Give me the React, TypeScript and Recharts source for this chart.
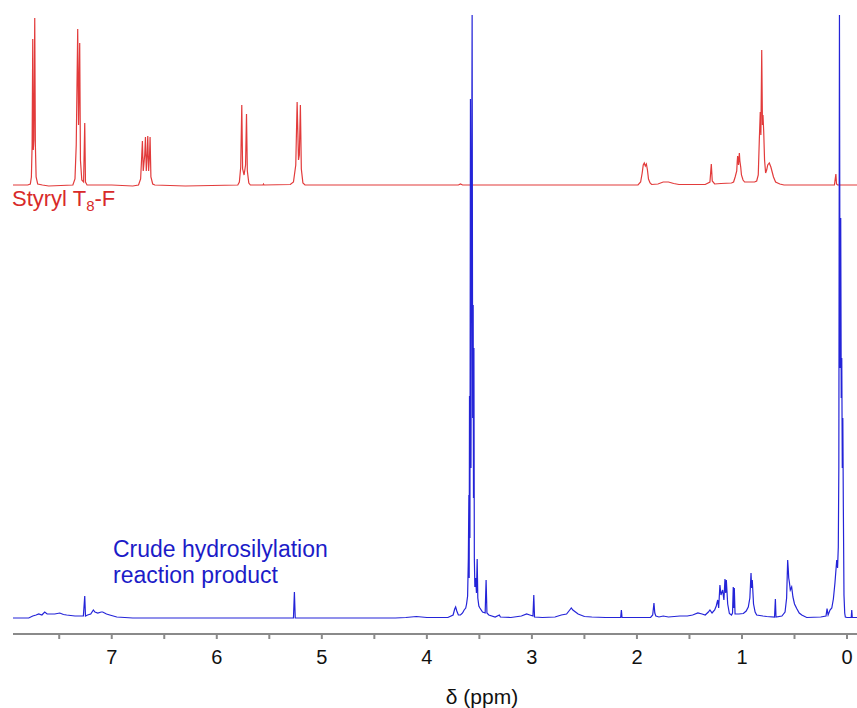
import { LineChart, Line, XAxis, YAxis } from "recharts";

// chemical shift ticks (labels only on whole ppm)
const tickValues = [7.5, 7, 6.5, 6, 5.5, 5, 4.5, 4, 3.5, 3, 2.5, 2, 1.5, 1, 0.5, 0];

// Styryl T8-F trace: [ppm, height above its own baseline]
const styrylTrace: [number, number][] = [
  [7.94, 0], [7.8, 0], [7.775, 1], [7.765, 8], [7.758, 40], [7.752, 146], [7.747, 35],
  [7.741, 45], [7.733, 167], [7.727, 40], [7.72, 8], [7.705, 1], [7.66, 0], [7.6, -1],
  [7.37, 0], [7.35, 6], [7.338, 40], [7.324, 156], [7.316, 60], [7.305, 142], [7.298, 25],
  [7.285, 5], [7.268, 3], [7.257, 62], [7.25, 3], [7.235, 0], [7.0, 0], [6.8, -1],
  [6.745, 0], [6.725, 6], [6.714, 30], [6.708, 44], [6.7, 14], [6.686, 30], [6.679, 48],
  [6.671, 14], [6.662, 32], [6.657, 49], [6.649, 14], [6.64, 30], [6.635, 48], [6.627, 8],
  [6.61, 1], [6.59, 0], [6.3, -1], [5.8, 0], [5.785, 3], [5.772, 18], [5.762, 80],
  [5.754, 16], [5.74, 10], [5.726, 20], [5.717, 71], [5.709, 14], [5.695, 2], [5.68, 0],
  [5.56, 0], [5.555, 1], [5.55, 0], [5.3, 0.5], [5.27, 3], [5.248, 20], [5.235, 83],
  [5.222, 25], [5.214, 30], [5.204, 80], [5.195, 16], [5.18, 2], [5.16, 0],
  [3.7, 0], [3.68, 1], [3.66, 0],
  [1.99, 0], [1.965, 3], [1.95, 12], [1.94, 20], [1.93, 22], [1.92, 19], [1.91, 21],
  [1.9, 15], [1.89, 6], [1.875, 2], [1.86, 0.5], [1.8, 1], [1.75, 3], [1.7, 3], [1.65, 1.5],
  [1.6, 0.5], [1.35, 0.5], [1.305, 3], [1.292, 21], [1.283, 4], [1.26, 1], [1.2, 1.5],
  [1.1, 2], [1.08, 3], [1.065, 8], [1.05, 14], [1.045, 24], [1.041, 29], [1.033, 20],
  [1.025, 32], [1.02, 24], [1.012, 18], [1.005, 10], [0.99, 5], [0.975, 3], [0.93, 3],
  [0.88, 3], [0.86, 4], [0.845, 10], [0.835, 45], [0.826, 73], [0.82, 50], [0.812, 135],
  [0.805, 60], [0.8, 70], [0.793, 53], [0.785, 25], [0.775, 12], [0.765, 15], [0.755, 20],
  [0.74, 22], [0.725, 18], [0.7, 8], [0.68, 3], [0.64, 1], [0.6, 0], [0.12, 0],
  [0.106, 11], [0.1, 1], [0.09, 0], [-0.095, 0],
];

// crude hydrosilylation reaction product trace: [ppm, height above its baseline]
const crudeTrace: [number, number][] = [
  [7.94, 0], [7.79, 0], [7.752, 2], [7.72, 3], [7.695, 4], [7.665, 3], [7.638, 6],
  [7.615, 4], [7.59, 4], [7.543, 4], [7.495, 5], [7.46, 3.5], [7.429, 3], [7.35, 2],
  [7.27, 2], [7.257, 22], [7.25, 2], [7.23, 3], [7.2, 4], [7.175, 8], [7.16, 6],
  [7.133, 5], [7.1, 6], [7.086, 6], [7.05, 4], [7.019, 3], [6.952, 1], [6.8, 0],
  [5.27, 0], [5.261, 26], [5.253, 0], [4.3, 0], [4.2, 0.5], [4.1, 1.5], [4.05, 1],
  [4.0, 0.5], [3.8, 0.5], [3.75, 3], [3.735, 9], [3.726, 11], [3.715, 7], [3.7, 3],
  [3.68, 3], [3.66, 5], [3.645, 8], [3.63, 10], [3.622, 14], [3.612, 22], [3.605, 60],
  [3.6, 123], [3.597, 40], [3.594, 222], [3.59, 80], [3.585, 519], [3.58, 150],
  [3.575, 380], [3.569, 603], [3.564, 200], [3.559, 313], [3.556, 120], [3.552, 270],
  [3.548, 60], [3.543, 31], [3.535, 40], [3.528, 25], [3.521, 59], [3.515, 20],
  [3.505, 12], [3.495, 10], [3.47, 6], [3.445, 5], [3.436, 38], [3.428, 5], [3.41, 3],
  [3.35, 1], [3.31, 3], [3.3, 1], [3.2, 0.5], [3.1, 2], [3.05, 4], [3.02, 3], [2.99, 2],
  [2.982, 23], [2.975, 1], [2.9, 0.5], [2.78, 1], [2.72, 3], [2.67, 4], [2.64, 8],
  [2.625, 10], [2.61, 8], [2.56, 4], [2.5, 1.5], [2.43, 1], [2.3, 0.5], [2.155, 0.5],
  [2.148, 8], [2.142, 0.5], [2.0, 0.5], [1.87, 0.5], [1.85, 3], [1.838, 15], [1.83, 5],
  [1.82, 2], [1.79, 1], [1.75, 2], [1.7, 1], [1.59, 2], [1.52, 2], [1.47, 3], [1.42, 5],
  [1.38, 4], [1.35, 3], [1.32, 6], [1.305, 8], [1.285, 5], [1.26, 8], [1.245, 12],
  [1.231, 18], [1.222, 10], [1.21, 33], [1.2, 23], [1.184, 28], [1.172, 18], [1.162, 39],
  [1.155, 25], [1.149, 38], [1.136, 14], [1.12, 4.5], [1.1, 3], [1.09, 5], [1.083, 31],
  [1.078, 10], [1.073, 30], [1.066, 4], [1.03, 4], [0.987, 4.5], [0.96, 7], [0.94, 11],
  [0.925, 20], [0.914, 45], [0.908, 30], [0.902, 38], [0.89, 14], [0.875, 6], [0.86, 3],
  [0.8, 2], [0.765, 1.5], [0.69, 1], [0.682, 19], [0.676, 1], [0.62, 2], [0.59, 6],
  [0.575, 20], [0.565, 58], [0.56, 50], [0.555, 40], [0.549, 36], [0.54, 28], [0.527, 31],
  [0.515, 21], [0.5, 14], [0.479, 9.5], [0.455, 5], [0.431, 3], [0.384, 0.5], [0.25, 1],
  [0.2, 2], [0.19, 9.5], [0.18, 3], [0.162, 8], [0.145, 10], [0.13, 19], [0.115, 35],
  [0.098, 58], [0.09, 50], [0.083, 71], [0.078, 150], [0.072, 603], [0.066, 250],
  [0.06, 400], [0.055, 220], [0.05, 260], [0.045, 150], [0.04, 200], [0.035, 111],
  [0.029, 23], [0.022, 5], [0.016, 1], [0.0, 0.5], [-0.04, 0.5], [-0.045, 8],
  [-0.05, 0.5], [-0.095, 0.5],
];

// vertical stacking of the two spectra (plot units = px above the axis)
const STYRYL_BASE = 449;
const CRUDE_BASE = 16;

const toRows = (trace: [number, number][], base: number) =>
  trace.map(([ppm, h]) => ({ ppm, y: h + base }));

const styrylRows = toRows(styrylTrace, STYRYL_BASE);
const crudeRows = toRows(crudeTrace, CRUDE_BASE);

const FONT = "'Liberation Sans', Arial, sans-serif";

export default function App() {
  return (
    <div
      style={{
        position: "absolute",
        left: 0,
        top: 0,
        width: 857,
        height: 708,
        background: "#fff",
        fontFamily: FONT,
      }}
    >
      <LineChart width={857} height={708} margin={{ top: 0, right: 0, bottom: 0, left: 13 }}>
        <XAxis
          type="number"
          dataKey="ppm"
          domain={[-0.095, 7.94]}
          reversed
          allowDataOverflow
          ticks={tickValues}
          interval={0}
          tickFormatter={(v: number) => (Number.isInteger(v) ? String(v) : "")}
          height={74}
          stroke="#8a8a8a"
          strokeWidth={2}
          tickSize={5}
          tickMargin={11}
          tick={{ fontSize: 20, fill: "#111", fontFamily: FONT }}
        />
        <YAxis type="number" hide domain={[0, 634]} allowDataOverflow />
        <Line
          data={styrylRows}
          dataKey="y"
          type="linear"
          stroke="#e23b3b"
          strokeWidth={1.2}
          dot={false}
          isAnimationActive={false}
        />
        <Line
          data={crudeRows}
          dataKey="y"
          type="linear"
          stroke="#2424d8"
          strokeWidth={1.2}
          dot={false}
          isAnimationActive={false}
        />
      </LineChart>
      <div
        style={{
          position: "absolute",
          left: 12,
          top: 188,
          fontSize: 22,
          lineHeight: "22px",
          color: "#d82a2a",
          whiteSpace: "nowrap",
        }}
      >
        Styryl T<sub style={{ fontSize: 15, lineHeight: 0 }}>8</sub>-F
      </div>
      <div
        style={{
          position: "absolute",
          left: 113,
          top: 536,
          fontSize: 23,
          lineHeight: "26px",
          color: "#1c1cc8",
          whiteSpace: "nowrap",
        }}
      >
        Crude hydrosilylation
        <br />
        reaction product
      </div>
      <div
        style={{
          position: "absolute",
          left: 0,
          width: 964,
          top: 684,
          textAlign: "center",
          fontSize: 21,
          lineHeight: "26px",
          color: "#111",
        }}
      >
        δ (ppm)
      </div>
    </div>
  );
}
